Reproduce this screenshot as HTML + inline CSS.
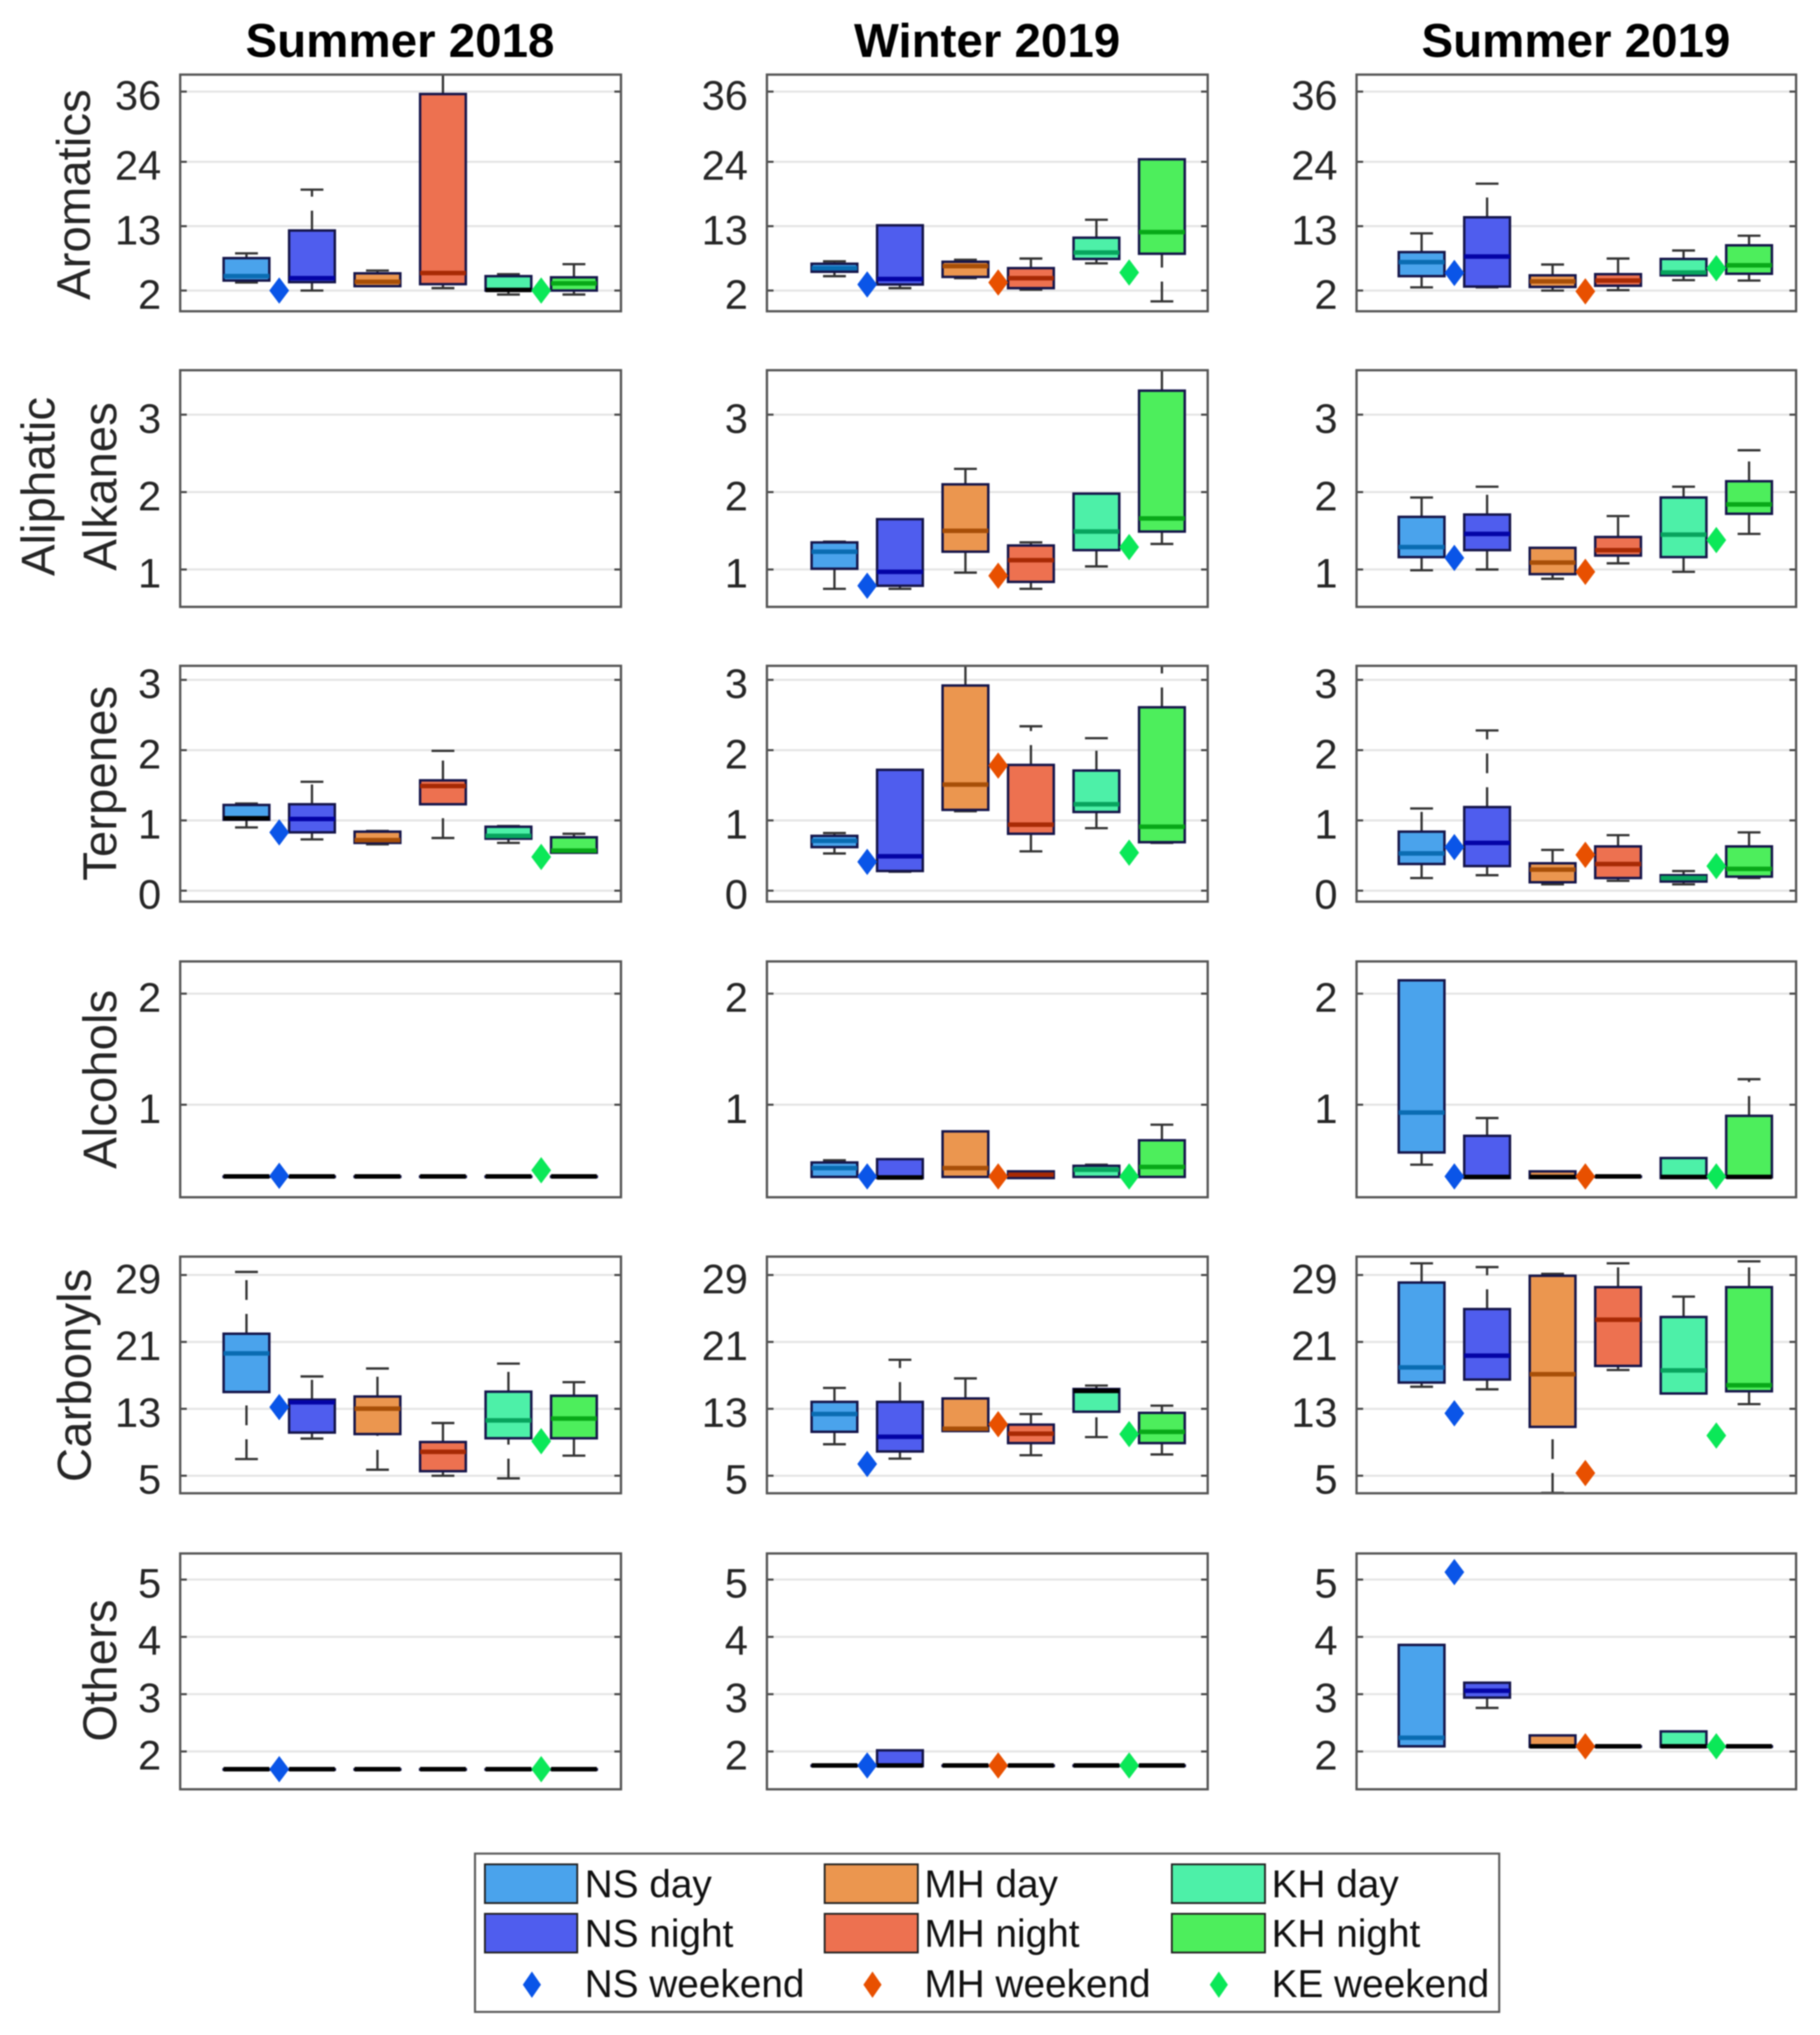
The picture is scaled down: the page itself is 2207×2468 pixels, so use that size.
<!DOCTYPE html>
<html lang="en">
<head>
<meta charset="utf-8">
<title>VOC box plots by season and site</title>
<style>
html,body{margin:0;padding:0;background:#fff;}
svg{display:block;filter:blur(0.8px);font-family:"Liberation Sans",sans-serif;}
</style>
</head>
<body>
<svg id="chart" xmlns="http://www.w3.org/2000/svg" width="2207" height="2468" viewBox="0 0 2207 2468">
  <rect x="0" y="0" width="2207" height="2468" fill="#fff"/>
  <text x="485" y="69" font-size="57.6" font-weight="700" text-anchor="middle" fill="#000">Summer 2018</text>
  <text x="1197" y="69" font-size="57.6" font-weight="700" text-anchor="middle" fill="#000">Winter 2019</text>
  <text x="1911" y="69" font-size="57.6" font-weight="700" text-anchor="middle" fill="#000">Summer 2019</text>

  <g id="panels"></g>

  <g font-size="57.5" fill="#262626" text-anchor="middle">
    <text transform="translate(109,236) rotate(-90)">Aromatics</text>
    <text transform="translate(66,590) rotate(-90)">Aliphatic</text>
    <text transform="translate(141,590) rotate(-90)">Alkanes</text>
    <text transform="translate(141,950) rotate(-90)">Terpenes</text>
    <text transform="translate(141,1309) rotate(-90)">Alcohols</text>
    <text transform="translate(110,1668) rotate(-90)">Carbonyls</text>
    <text transform="translate(141,2026) rotate(-90)">Others</text>
  </g>

  <g>
    <rect x="576" y="2248" width="1242" height="192" fill="#fff" stroke="#5a5a5a" stroke-width="2.5"/>
    <g stroke="#222" stroke-width="2.2">
      <rect x="588" y="2261" width="112" height="47" fill="#4aa3ec"/>
      <rect x="588" y="2321" width="112" height="47" fill="#4f5dee"/>
      <rect x="1000" y="2261" width="113" height="47" fill="#eb964f"/>
      <rect x="1000" y="2321" width="113" height="47" fill="#ed7150"/>
      <rect x="1421" y="2261" width="113" height="47" fill="#4df0a8"/>
      <rect x="1421" y="2321" width="113" height="47" fill="#4dee5c"/>
    </g>
    <polygon points="645,2391 656,2407 645,2423 634,2407" fill="#0a55e8"/>
    <polygon points="1058,2391 1069,2407 1058,2423 1047,2407" fill="#e85000"/>
    <polygon points="1478,2391 1489,2407 1478,2423 1467,2407" fill="#0be858"/>
    <g font-size="47" fill="#111">
      <text x="709" y="2301">NS day</text>
      <text x="709" y="2361">NS night</text>
      <text x="709" y="2422">NS weekend</text>
      <text x="1121" y="2301">MH day</text>
      <text x="1121" y="2361">MH night</text>
      <text x="1121" y="2422">MH weekend</text>
      <text x="1542" y="2301">KH day</text>
      <text x="1542" y="2361">KH night</text>
      <text x="1542" y="2422">KE weekend</text>
    </g>
  </g>
</svg>

<script>
// Each box reads [high whisker, upper quartile, median, lower quartile, low whisker]
// in the order NS day, NS night, MH day, MH night, KH day, KH night.
const seasons = ['summer-2018', 'winter-2019', 'summer-2019'];
const compounds = ['aromatics', 'aliphatic-alkanes', 'terpenes', 'alcohols', 'carbonyls', 'others'];
const boxGroups = ['ns-day', 'ns-night', 'mh-day', 'mh-night', 'kh-day', 'kh-night'];
const weekendGroups = ['ns-weekend', 'mh-weekend', 'ke-weekend'];

const aromaticsTicks = [2, 13, 24, 36];
const alkanesTicks = [1, 2, 3];
const terpenesTicks = [0, 1, 2, 3];
const alcoholsTicks = [1, 2];
const carbonylsTicks = [5, 13, 21, 29];
const othersTicks = [2, 3, 4, 5];

const aromaticsLimits = [-1.4, 38.9];
const alkanesLimits = [0.528, 3.574];
const terpenesLimits = [-0.156, 3.2];
const alcoholsLimits = [0.167, 2.29];
const carbonylsLimits = [3.0, 31.2];
const othersLimits = [1.34, 5.456];

const aromaticsS18 = [[8.36,7.54,4.46,3.71,3.37],[19.24,12.26,4.12,3.44,2.0],[5.42,4.94,3.5,2.75,2.75],[42,35.58,5.0,3.09,2.41],[4.8,4.46,2.1,2.0,1.32],[6.51,4.26,3.23,2.0,1.32]];
const aromaticsW19 = [[6.99,6.58,5.83,5.21,4.46],[13.15,13.15,3.98,3.03,2.41],[7.27,6.92,6.17,4.33,4.12],[7.47,5.83,4.12,2.41,2.14],[14.1,11.03,8.5,7.4,6.65],[24.43,24.43,11.99,8.29,0.15]];
const aromaticsS19 = [[11.78,8.57,6.86,4.46,2.55],[20.26,14.52,7.81,2.68,2.55],[6.45,4.6,3.57,2.62,2.0],[7.47,4.8,3.71,2.82,2.07],[8.84,7.4,5.08,4.6,3.78],[11.37,9.73,6.31,4.87,3.71]];
const alkanesS18 = [];
const alkanesW19 = [[1.36,1.35,1.23,1.01,0.75],[1.65,1.65,0.97,0.79,0.75],[2.30,2.10,1.50,1.23,0.96],[1.35,1.31,1.12,0.84,0.75],[1.98,1.98,1.49,1.25,1.04],[3.7,3.31,1.66,1.49,1.33]];
const alkanesS19 = [[1.93,1.68,1.29,1.16,0.99],[2.07,1.71,1.46,1.25,1.0],[1.28,1.28,1.09,0.94,0.88],[1.69,1.42,1.25,1.18,1.08],[2.07,1.93,1.45,1.16,0.97],[2.54,2.14,1.84,1.72,1.46]];
const terpenesS18 = [[1.24,1.22,1.03,1.01,0.90],[1.55,1.23,1.02,0.83,0.73],[0.85,0.84,0.72,0.68,0.66],[1.99,1.57,1.49,1.23,0.75],[0.92,0.91,0.78,0.74,0.68],[0.81,0.76,0.57,0.54,0.54]];
const terpenesW19 = [[0.82,0.78,0.71,0.62,0.53],[1.72,1.72,0.49,0.28,0.27],[3.4,2.92,1.51,1.15,1.13],[2.34,1.79,0.94,0.81,0.56],[2.17,1.71,1.23,1.12,0.89],[3.4,2.61,0.91,0.69,0.68]];
const terpenesS19 = [[1.17,0.84,0.53,0.38,0.18],[2.28,1.19,0.68,0.35,0.22],[0.58,0.39,0.30,0.12,0.09],[0.79,0.63,0.38,0.18,0.14],[0.28,0.22,0.18,0.13,0.09],[0.83,0.63,0.31,0.20,0.18]];
const alcoholsS18 = [[0.354,0.354,0.354,0.354,0.354],[0.354,0.354,0.354,0.354,0.354],[0.354,0.354,0.354,0.354,0.354],[0.354,0.354,0.354,0.354,0.354],[0.354,0.354,0.354,0.354,0.354],[0.354,0.354,0.354,0.354,0.354]];
const alcoholsW19 = [[0.50,0.48,0.43,0.35,0.35],[0.51,0.51,0.345,0.34,0.34],[0.76,0.76,0.43,0.35,0.35],[0.40,0.40,0.37,0.34,0.34],[0.46,0.45,0.415,0.35,0.35],[0.82,0.68,0.44,0.35,0.35]];
const alcoholsS19 = [[2.12,2.12,0.93,0.57,0.46],[0.88,0.72,0.35,0.34,0.34],[0.40,0.40,0.35,0.34,0.34],[0.354,0.354,0.354,0.354,0.354],[0.52,0.52,0.35,0.34,0.34],[1.23,0.90,0.35,0.347,0.347]];
const carbonylsS18 = [[29.37,21.98,19.63,15.01,6.99],[16.87,14.10,13.79,10.16,9.44],[17.82,14.47,13.02,9.98,5.72],[11.3,9.03,7.85,5.54,5.0],[18.41,15.05,11.61,9.48,4.68],[16.19,14.56,11.84,9.48,7.4]];
const carbonylsW19 = [[15.5,13.83,12.38,10.25,8.76],[18.86,13.83,9.66,7.9,7.04],[16.64,14.24,10.62,10.34,10.34],[12.38,11.11,10.03,8.9,7.45],[15.78,15.37,15.14,12.65,9.62],[13.38,12.52,10.25,8.9,7.54]];
const carbonylsS19 = [[30.4,28.1,17.95,16.14,15.64],[29.95,24.93,19.36,16.5,15.33],[29.14,28.91,17.14,10.84,2.95],[30.4,27.55,23.66,18.13,17.64],[26.42,23.98,17.59,14.83,14.83],[30.63,27.55,15.82,15.1,13.56]];
const othersS18 = [[1.69,1.69,1.69,1.69,1.69],[1.69,1.69,1.69,1.69,1.69],[1.69,1.69,1.69,1.69,1.69],[1.69,1.69,1.69,1.69,1.69],[1.69,1.69,1.69,1.69,1.69],[1.69,1.69,1.69,1.69,1.69]];
const othersW19 = [[1.755,1.755,1.755,1.755,1.755],[2.02,2.02,1.755,1.745,1.745],[1.755,1.755,1.755,1.755,1.755],[1.755,1.755,1.755,1.755,1.755],[1.755,1.755,1.755,1.755,1.755],[1.755,1.755,1.755,1.755,1.755]];
const othersS19 = [[3.86,3.86,2.24,2.09,2.09],[3.2,3.2,3.06,2.94,2.76],[2.28,2.28,2.09,2.08,2.08],[2.09,2.09,2.09,2.09,2.09],[2.35,2.35,2.09,2.08,2.08],[2.09,2.09,2.09,2.09,2.09]];

// Weekend markers: NS, MH, KE (null when absent)
const aromaticsWeekendS18 = [2.0, null, 2.0];
const aromaticsWeekendW19 = [3.03, 3.37, 5.08];
const aromaticsWeekendS19 = [5.01, 1.86, 5.83];
const alkanesWeekendS18 = [null, null, null];
const alkanesWeekendW19 = [0.79, 0.92, 1.29];
const alkanesWeekendS19 = [1.15, 0.97, 1.38];
const terpenesWeekendS18 = [0.83, null, 0.48];
const terpenesWeekendW19 = [0.41, 1.78, 0.54];
const terpenesWeekendS19 = [0.62, 0.51, 0.35];
const alcoholsWeekendS18 = [0.36, null, 0.41];
const alcoholsWeekendW19 = [0.354, 0.354, 0.354];
const alcoholsWeekendS19 = [0.354, 0.354, 0.354];
const carbonylsWeekendS18 = [13.2, null, 9.12];
const carbonylsWeekendW19 = [6.4, 11.16, 9.98];
const carbonylsWeekendS19 = [12.47, 5.32, 9.8];
const othersWeekendS18 = [1.69, null, 1.69];
const othersWeekendW19 = [1.755, 1.755, 1.755];
const othersWeekendS19 = [5.13, 2.09, 2.09];

const rowTicks = [aromaticsTicks, alkanesTicks, terpenesTicks, alcoholsTicks, carbonylsTicks, othersTicks];
const rowLimits = [aromaticsLimits, alkanesLimits, terpenesLimits, alcoholsLimits, carbonylsLimits, othersLimits];
const rowBoxes = [
  [aromaticsS18, aromaticsW19, aromaticsS19],
  [alkanesS18, alkanesW19, alkanesS19],
  [terpenesS18, terpenesW19, terpenesS19],
  [alcoholsS18, alcoholsW19, alcoholsS19],
  [carbonylsS18, carbonylsW19, carbonylsS19],
  [othersS18, othersW19, othersS19]
];
const rowWeekends = [
  [aromaticsWeekendS18, aromaticsWeekendW19, aromaticsWeekendS19],
  [alkanesWeekendS18, alkanesWeekendW19, alkanesWeekendS19],
  [terpenesWeekendS18, terpenesWeekendW19, terpenesWeekendS19],
  [alcoholsWeekendS18, alcoholsWeekendW19, alcoholsWeekendS19],
  [carbonylsWeekendS18, carbonylsWeekendW19, carbonylsWeekendS19],
  [othersWeekendS18, othersWeekendW19, othersWeekendS19]
];

// Layout and style
const colLeft = [218.5, 930, 1645];
const colWidth = [534.5, 534.5, 533];
const colShift = [1.5, 3, 0];
const rowTop = [90.5, 449, 807.5, 1166, 1524, 1884];
const rowFrameH = [287, 287, 286, 286, 287, 286];
const plotW = 533;
const plotH = 286;
const boxFill = ['#4aa3ec', '#4f5dee', '#eb964f', '#ed7150', '#4df0a8', '#4dee5c'];
const medianStroke = ['#0a6cb2', '#0404a6', '#a84f08', '#a82a05', '#08a45e', '#08a818'];
const weekendFill = ['#0a55e8', '#e85000', '#0be858'];

const NS = 'http://www.w3.org/2000/svg';
const root = document.getElementById('panels');

function make(tag, attrs, parent) {
  const node = document.createElementNS(NS, tag);
  for (const k in attrs) node.setAttribute(k, attrs[k]);
  parent.appendChild(node);
  return node;
}
function xAxis(c, pos) { return colLeft[c] + colShift[c] + plotW * (0.148 + 0.149 * pos); }
function yAxis(r, v) {
  const lim = rowLimits[r];
  return rowTop[r] + plotH * (1 - (v - lim[0]) / (lim[1] - lim[0]));
}

const defs = make('defs', {}, root);
rowTop.forEach(function (top, r) {
  colLeft.forEach(function (left, c) {
    const w = colWidth[c];
    const h = rowFrameH[r];
    const clip = make('clipPath', { id: 'clip-' + r + '-' + c }, defs);
    make('rect', { x: left, y: top, width: w, height: h }, clip);

    const panel = make('g', {}, root);
    
    

    const plot = make('g', { 'clip-path': 'url(#clip-' + r + '-' + c + ')' }, panel);

    rowTicks[r].forEach(function (tick) {
      const y = yAxis(r, tick);
      const grid = make('line', { x1: left, x2: left + w, y1: y, y2: y, stroke: '#e4e4e4', 'stroke-width': 2.5 }, plot);
      
      
      const tl = make('line', { x1: left, x2: left + 8, y1: y, y2: y, stroke: '#444', 'stroke-width': 2.5 }, plot);
      
      
      const tr = make('line', { x1: left + w - 8, x2: left + w, y1: y, y2: y, stroke: '#444', 'stroke-width': 2.5 }, plot);
      
      
      const label = make('text', { x: left - 23, y: y + 22, 'font-size': 50.5, 'text-anchor': 'end', fill: '#262626' }, panel);
      
      
      label.textContent = tick;
    });

    rowBoxes[r][c].forEach(function (vals, i) {
      const cx = xAxis(c, i);
      const halfBox = plotW * 0.052;
      const halfCap = plotW * 0.026;
      const yHigh = yAxis(r, vals[0]);
      const yQ3 = yAxis(r, vals[1]);
      const yMed = yAxis(r, vals[2]);
      const yQ1 = yAxis(r, vals[3]);
      const yLow = yAxis(r, vals[4]);

      const box = make('g', {}, plot);
      
      

      if (vals[0] !== vals[1]) {
        const up = make('line', { x1: cx, x2: cx, y1: yQ3, y2: yHigh, stroke: '#333', 'stroke-width': 2.8, 'stroke-dasharray': '24 17' }, box);
        
        
        const capUp = make('line', { x1: cx - halfCap, x2: cx + halfCap, y1: yHigh, y2: yHigh, stroke: '#333', 'stroke-width': 2.8 }, box);
        
        
      }
      if (vals[4] !== vals[3]) {
        const down = make('line', { x1: cx, x2: cx, y1: yLow, y2: yQ1, stroke: '#333', 'stroke-width': 2.8, 'stroke-dasharray': '24 17' }, box);
        
        
        const capDown = make('line', { x1: cx - halfCap, x2: cx + halfCap, y1: yLow, y2: yLow, stroke: '#333', 'stroke-width': 2.8 }, box);
        
        
      }

      const rect = make('rect', {
        x: cx - halfBox, y: yQ3, width: halfBox * 2, height: Math.max(yQ1 - yQ3, 0.5),
        fill: boxFill[i], stroke: '#15154a', 'stroke-width': 3
      }, box);
      
      

      const hugsEdge = (yQ1 - yMed) < 2.5 || (yMed - yQ3) < 2.5;
      const med = make('line', {
        x1: cx - halfBox, x2: cx + halfBox, y1: yMed, y2: yMed,
        stroke: hugsEdge ? '#000' : medianStroke[i], 'stroke-width': 5.5
      }, box);
      
      
    });

    rowWeekends[r][c].forEach(function (v, k) {
      if (v === null) return;
      const cx = xAxis(c, k * 2 + 0.5);
      const cy = yAxis(r, v);
      const d = make('polygon', {
        points: cx + ',' + (cy - 16) + ' ' + (cx + 12) + ',' + cy + ' ' + cx + ',' + (cy + 16) + ' ' + (cx - 12) + ',' + cy,
        fill: weekendFill[k]
      }, panel);
      
      
    });

    const frame = make('rect', { x: left, y: top, width: w, height: h, fill: 'none', stroke: '#555', 'stroke-width': 2.8 }, panel);
    
    
  });
});
</script>
</body>
</html>
